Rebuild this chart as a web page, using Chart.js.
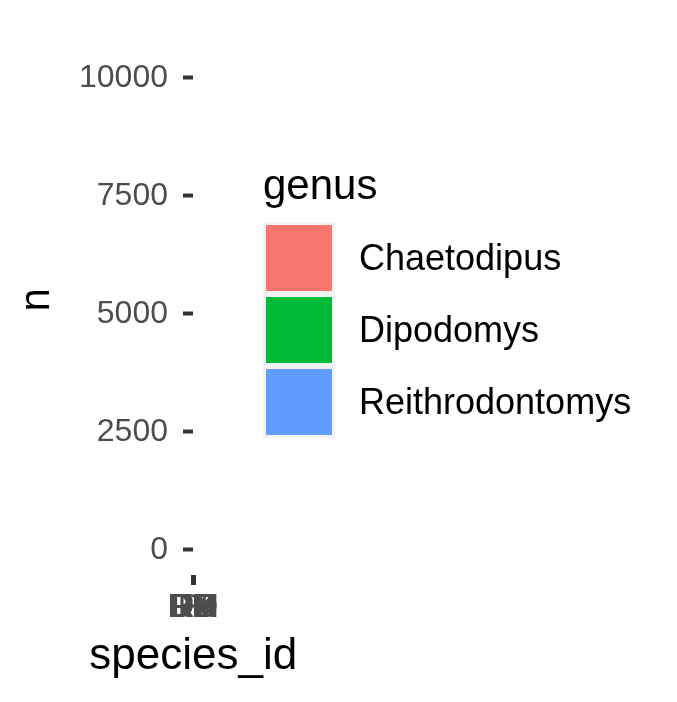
<!DOCTYPE html>
<html>
<head>
<meta charset="utf-8">
<script src="https://cdn.jsdelivr.net/npm/chart.js@4.4.1/dist/chart.umd.min.js"></script>
<style>
  body { margin: 0; background: #fff; }
  #wrap { position: relative; width: 677px; height: 702px; }
  #chart { display: block; }
  .lg { position: absolute; font-family: 'Liberation Sans', Arial, sans-serif; color: #000; white-space: nowrap; }
  .lg-title { font-size: 42px; line-height: 40px; }
  .lg-key { width: 72px; height: 72px; background: #F2F2F2; }
  .lg-key div { position: absolute; left: 3px; top: 3px; width: 66px; height: 66px; }
  .lg-text { font-size: 36px; line-height: 72px; }
</style>
</head>
<body>
<div id="wrap">
  <canvas id="chart" width="677" height="702"></canvas>
</div>
<script>
// data
const species = ['DM', 'DO', 'DS', 'DX', 'PB', 'PH', 'PI', 'PP', 'PX', 'RF', 'RM', 'RO', 'RX'];
const counts = [10596, 3027, 2504, 40, 2891, 32, 9, 3123, 6, 75, 2609, 8, 2];
const speciesGenus = ['Dipodomys', 'Dipodomys', 'Dipodomys', 'Dipodomys',
    'Chaetodipus', 'Chaetodipus', 'Chaetodipus', 'Chaetodipus', 'Chaetodipus',
    'Reithrodontomys', 'Reithrodontomys', 'Reithrodontomys', 'Reithrodontomys'];
const genera = ['Chaetodipus', 'Dipodomys', 'Reithrodontomys'];
const genusColors = ['#F8766D', '#00BA38', '#619CFF'];
const yTicks = [0, 2500, 5000, 7500, 10000];
const xTitle = 'species_id';

const FONT = "'Liberation Sans', Arial, sans-serif";

// ggplot style 5% expansion of the y range
const yMax = Math.max(...counts);
const yPad = 0.05 * yMax;

const datasets = genera.map((g, i) => ({
    label: g,
    data: counts.map((n, j) => speciesGenus[j] === g ? n : null),
    backgroundColor: genusColors[i],
    borderWidth: 0,
    categoryPercentage: 0.1
}));

const tickGrid = {
    drawOnChartArea: false,
    drawTicks: true,
    tickLength: 10,
    tickWidth: 4,
    tickColor: '#333333'
};

// the panel is squeezed to almost nothing, so chart.js would shrink the
// x title to the panel width; draw it centred under the panel instead
const xTitlePlugin = {
    id: 'xTitle',
    afterDraw(chart) {
        const { ctx, chartArea } = chart;
        ctx.save();
        ctx.font = '44px ' + FONT;
        ctx.fillStyle = '#000';
        ctx.textAlign = 'center';
        ctx.textBaseline = 'alphabetic';
        ctx.fillText(xTitle, (chartArea.left + chartArea.right) / 2, chart.scales.x.bottom - 33);
        ctx.restore();
    }
};

new Chart(document.getElementById('chart'), {
    type: 'bar',
    data: { labels: species, datasets: datasets },
    plugins: [xTitlePlugin],
    options: {
        responsive: false,
        animation: false,
        layout: { padding: { left: 0, top: 24.8, right: 677 - 193.5, bottom: 0 } },
        plugins: { legend: { display: false }, tooltip: { enabled: false } },
        scales: {
            x: {
                stacked: true,
                grid: tickGrid,
                border: { display: false },
                ticks: {
                    autoSkip: false, maxRotation: 0, minRotation: 0, padding: 3,
                    color: '#4D4D4D', font: { family: FONT, size: 33 }
                },
                title: { display: false },
                afterFit(s) { s.height = 127; s.paddingLeft = 0; s.paddingRight = 0; }
            },
            y: {
                stacked: true,
                min: -yPad,
                max: yMax + yPad,
                afterBuildTicks(s) { s.ticks = yTicks.map(v => ({ value: v })); },
                grid: tickGrid,
                border: { display: false },
                ticks: {
                    padding: 15, color: '#4D4D4D', font: { family: FONT, size: 32 },
                    callback: v => String(v)
                },
                title: {
                    display: true, text: 'n', color: '#000',
                    font: { family: FONT, size: 42 }, padding: { top: 12, bottom: 0 }
                },
                afterFit(s) { s.width = 193; s.paddingTop = 0; s.paddingBottom = 0; }
            }
        }
    }
});

// legend (ggplot style keys)
const wrap = document.getElementById('wrap');
function addEl(cls, left, top, text) {
    const el = document.createElement('div');
    el.className = 'lg ' + cls;
    el.style.left = left + 'px';
    el.style.top = top + 'px';
    if (text) el.textContent = text;
    wrap.appendChild(el);
    return el;
}
addEl('lg-title', 263, 165, 'genus');
genera.forEach((g, i) => {
    const key = addEl('lg-key', 263, 222 + i * 72);
    const fill = document.createElement('div');
    fill.style.background = genusColors[i];
    key.appendChild(fill);
    addEl('lg-text', 359, 222 + i * 72, g);
});
</script>
</body>
</html>
